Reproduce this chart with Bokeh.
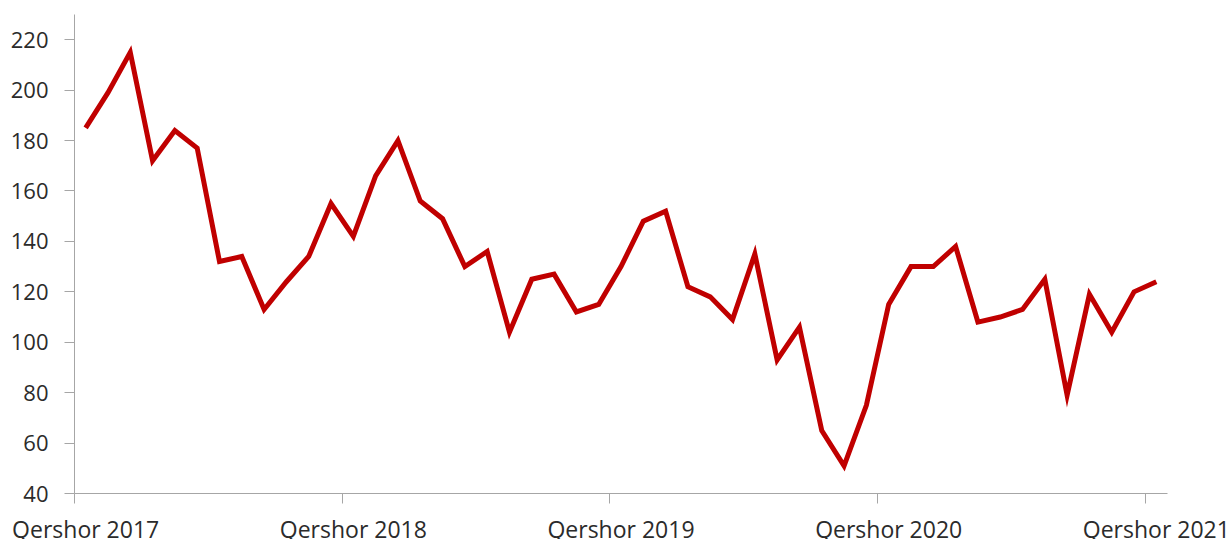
from bokeh.plotting import figure
from bokeh.layouts import column
from bokeh.models import Range1d, FixedTicker, LinearAxis, ColumnDataSource
from bokeh.core.properties import value
from bokeh.embed import file_html
from bokeh.resources import INLINE

months = list(range(49))
values = [185, 199, 215, 172, 184, 177, 132, 134, 113, 124, 134, 155,
          142, 166, 180, 156, 149, 130, 136, 104, 125, 127, 112, 115,
          130, 148, 152, 122, 118, 109, 135, 93, 106, 65, 51, 75,
          115, 130, 130, 138, 108, 110, 113, 125, 79, 119, 104, 120,
          124]
label_positions = [0, 12, 24, 36, 48]
label_texts = ["Qershor 2017", "Qershor 2018", "Qershor 2019", "Qershor 2020", "Qershor 2021"]
boundary_ticks = [-0.5, 11.5, 23.5, 35.5, 47.5]
y_ticks = [40, 60, 80, 100, 120, 140, 160, 180, 200, 220]
y_min, y_max = 40, 230
x_min, x_max = -0.5, 48.5

FONT = "Open Sans"
TXT = "#2b2b2b"
AX = "#a6a6a6"

W = 1231
H_MAIN = 510
H_LAB = 539 - H_MAIN
B_LEFT, B_RIGHT, B_TOP, B_BOTTOM = 74, 64, 14, 17
LABEL_BASELINE = 11

p = figure(width=W, height=H_MAIN, output_backend="svg", toolbar_location=None,
           x_range=Range1d(x_min, x_max), y_range=Range1d(y_min, y_max),
           x_axis_location=None, y_axis_location=None,
           min_border_left=B_LEFT, min_border_right=B_RIGHT,
           min_border_top=B_TOP, min_border_bottom=B_BOTTOM)
p.frame_align = False
p.outline_line_color = None
p.grid.visible = False
p.background_fill_color = "white"
p.border_fill_color = "white"

p.line(months, values, line_color="#c00000", line_width=5, line_join="miter")

yax = LinearAxis(ticker=FixedTicker(ticks=y_ticks))
yax.axis_line_color = AX
yax.major_tick_line_color = AX
yax.major_tick_out = 10
yax.major_tick_in = 0
yax.minor_tick_line_color = None
yax.major_label_standoff = 16
yax.major_label_text_font = FONT
yax.major_label_text_font_size = "22px"
yax.major_label_text_color = TXT
p.add_layout(yax, "left")

xax = LinearAxis(ticker=FixedTicker(ticks=boundary_ticks))
xax.axis_line_color = AX
xax.major_tick_line_color = AX
xax.major_tick_out = 10
xax.major_tick_in = 0
xax.minor_tick_line_color = None
xax.major_label_standoff = 0
xax.major_label_text_font_size = "1px"
xax.major_label_text_alpha = 0
p.add_layout(xax, "below")

# label strip below, sharing the same horizontal data mapping
px_per_unit = (W - B_LEFT - B_RIGHT) / (x_max - x_min)
lab_range = Range1d(x_min - B_LEFT / px_per_unit, x_max + B_RIGHT / px_per_unit)
p2 = figure(width=W, height=H_LAB, output_backend="svg", toolbar_location=None,
            x_range=lab_range, y_range=Range1d(0, H_LAB),
            x_axis_location=None, y_axis_location=None,
            min_border_left=0, min_border_right=0, min_border_top=0, min_border_bottom=0)
p2.frame_align = False
p2.outline_line_color = None
p2.grid.visible = False
p2.background_fill_color = "white"
p2.border_fill_color = "white"
src = ColumnDataSource(dict(x=label_positions, y=[LABEL_BASELINE] * len(label_positions), text=label_texts))
p2.text(x="x", y="y", text="text", source=src, text_align="center", text_baseline="alphabetic",
        text_font=value(FONT), text_font_size="23px", text_color=TXT)

open("out.html", "w").write(file_html(column(p, p2, spacing=0), INLINE))
